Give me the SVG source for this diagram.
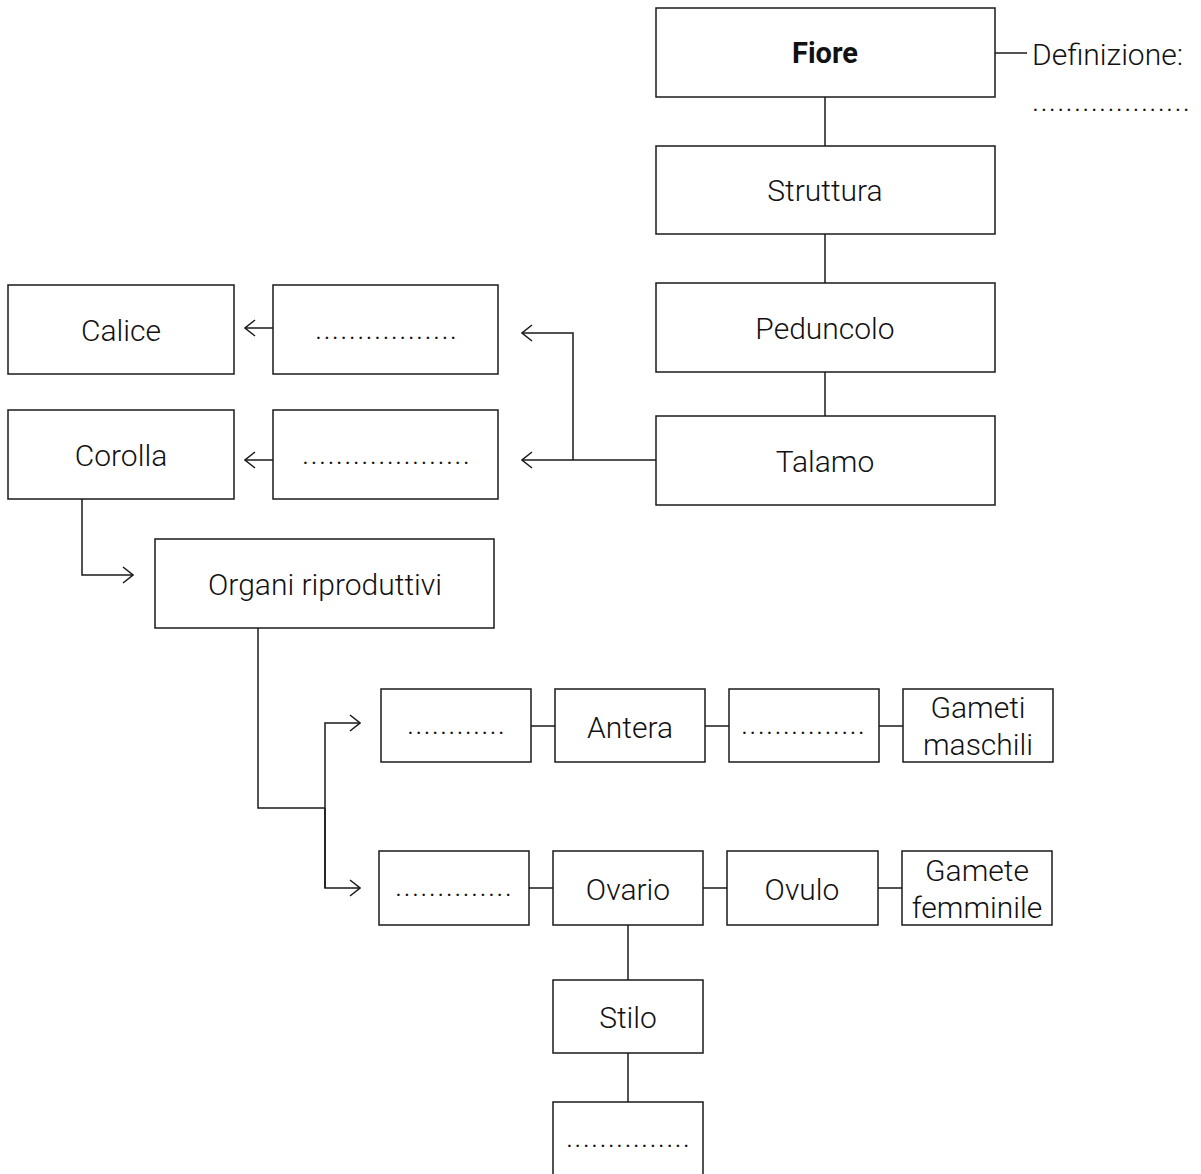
<svg xmlns="http://www.w3.org/2000/svg" width="1201" height="1174" viewBox="0 0 1201 1174">
<defs>
<style>
.box{fill:#fff;stroke:#1a1a1a;stroke-width:1.5}
.t{font-family:Roboto,"Liberation Sans",sans-serif;font-weight:300;font-size:30px;fill:#111;text-anchor:middle;dominant-baseline:central}
.b{font-weight:700;font-size:29px}
.l{text-anchor:start}
.c{fill:none;stroke:#1a1a1a;stroke-width:1.5}
</style>
<marker id="arr" viewBox="0 0 12 20" refX="11" refY="10" markerWidth="12" markerHeight="20" markerUnits="userSpaceOnUse" orient="auto">
<path d="M1,2 L11,10 L1,18" fill="none" stroke="#1a1a1a" stroke-width="1.5"/>
</marker>
</defs>
<rect width="1201" height="1174" fill="#fff"/>
<g id="connectors">
<path class="c" d="M825,97 V146"/>
<path class="c" d="M825,234 V283"/>
<path class="c" d="M825,372 V416"/>
<path class="c" d="M995,53 H1027"/>
<path class="c" d="M656,460 H522" marker-end="url(#arr)"/>
<path class="c" d="M573,460 V333 H522" marker-end="url(#arr)"/>
<path class="c" d="M273,328 H245" marker-end="url(#arr)"/>
<path class="c" d="M273,460 H245" marker-end="url(#arr)"/>
<path class="c" d="M82,499 V575 H133" marker-end="url(#arr)"/>
<path class="c" d="M258,628 V808 H325"/>
<path class="c" d="M325,888 V723 H360" marker-end="url(#arr)"/>
<path class="c" d="M325,808 V888 H360" marker-end="url(#arr)"/>
<path class="c" d="M531,726 H555"/>
<path class="c" d="M705,726 H729"/>
<path class="c" d="M879,726 H903"/>
<path class="c" d="M529,888 H553"/>
<path class="c" d="M703,888 H727"/>
<path class="c" d="M878,888 H902"/>
<path class="c" d="M628,925 V980"/>
<path class="c" d="M628,1053 V1102"/>
</g>
<g id="fiore"><rect class="box" x="656" y="8" width="339" height="89"/><text class="t b" x="825" y="53">Fiore</text></g>
<g id="definizione"><text class="t l" x="1032" y="54">Definizione:</text><text class="t l" x="1032" y="100" textLength="158" lengthAdjust="spacing">...................</text></g>
<g id="struttura"><rect class="box" x="656" y="146" width="339" height="88"/><text class="t" x="825" y="190">Struttura</text></g>
<g id="peduncolo"><rect class="box" x="656" y="283" width="339" height="89"/><text class="t" x="825" y="328">Peduncolo</text></g>
<g id="talamo"><rect class="box" x="656" y="416" width="339" height="89"/><text class="t" x="825" y="461">Talamo</text></g>
<g id="calice"><rect class="box" x="8" y="285" width="226" height="89"/><text class="t" x="121" y="330">Calice</text></g>
<g id="dots1"><rect class="box" x="273" y="285" width="225" height="89"/><text class="t l" x="315" y="328" textLength="142" lengthAdjust="spacing">.................</text></g>
<g id="corolla"><rect class="box" x="8" y="410" width="226" height="89"/><text class="t" x="121" y="455">Corolla</text></g>
<g id="dots2"><rect class="box" x="273" y="410" width="225" height="89"/><text class="t l" x="302" y="453" textLength="168" lengthAdjust="spacing">....................</text></g>
<g id="organi"><rect class="box" x="155" y="539" width="339" height="89"/><text class="t" x="325" y="584">Organi riproduttivi</text></g>
<g id="r1a"><rect class="box" x="381" y="689" width="150" height="73"/><text class="t l" x="407" y="723" textLength="98" lengthAdjust="spacing">............</text></g>
<g id="antera"><rect class="box" x="555" y="689" width="150" height="73"/><text class="t" x="630" y="727">Antera</text></g>
<g id="r1c"><rect class="box" x="729" y="689" width="150" height="73"/><text class="t l" x="741" y="723" textLength="124" lengthAdjust="spacing">...............</text></g>
<g id="gameti"><rect class="box" x="903" y="689" width="150" height="73"/><text class="t" x="978" y="707">Gameti</text><text class="t" x="978" y="744">maschili</text></g>
<g id="r2a"><rect class="box" x="379" y="851" width="150" height="74"/><text class="t l" x="395" y="885" textLength="117" lengthAdjust="spacing">..............</text></g>
<g id="ovario"><rect class="box" x="553" y="851" width="150" height="74"/><text class="t" x="628" y="889">Ovario</text></g>
<g id="ovulo"><rect class="box" x="727" y="851" width="151" height="74"/><text class="t" x="802" y="889">Ovulo</text></g>
<g id="gamete"><rect class="box" x="902" y="851" width="150" height="74"/><text class="t" x="977" y="870">Gamete</text><text class="t" x="977" y="907">femminile</text></g>
<g id="stilo"><rect class="box" x="553" y="980" width="150" height="73"/><text class="t" x="628" y="1017">Stilo</text></g>
<g id="bottom"><rect class="box" x="553" y="1102" width="150" height="73"/><text class="t l" x="566" y="1136" textLength="124" lengthAdjust="spacing">...............</text></g>
</svg>
